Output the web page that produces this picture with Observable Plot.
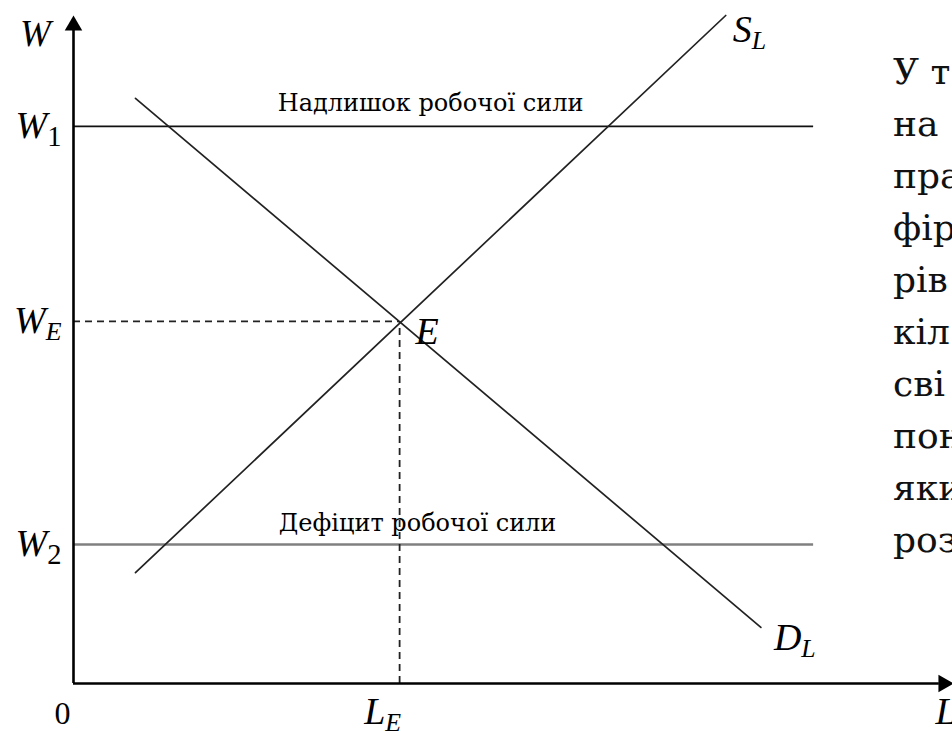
<!DOCTYPE html>
<html><head><meta charset="utf-8">
<script src="https://cdn.jsdelivr.net/npm/d3@7"></script>
<script src="https://cdn.jsdelivr.net/npm/@observablehq/plot@0.6"></script>
<style>
html,body{margin:0;padding:0;background:#fff;overflow:hidden;width:952px;height:735px}
#wrap{position:relative;width:952px;height:735px;overflow:hidden}
#para{position:absolute;left:893px;top:46px;font-family:"DejaVu Serif",serif;font-size:36px;line-height:52px;white-space:nowrap;color:#111}
</style></head>
<body><div id="wrap"><div id="chart"></div><div id="para"></div></div>
<script>
// Key levels (conceptual units)
const L_E = 3.71;   // equilibrium quantity of labour
const W_E = 5.42;   // equilibrium wage
const W_1 = 8.34;   // wage above equilibrium
const W_2 = 2.08;   // wage below equilibrium
const levelEnd = 8.42; // right end of the W1 / W2 lines

// Demand and supply curves (L, W)
const demandL = [0.705, 7.82];
const demandW = [8.76, 0.84];
const supplyL = [0.705, 7.42];
const supplyW = [1.66, 10.0];

// Labels
const yTickLabels = ["W_1", "W_E", "W_2"];
const yTickValues = [W_1, W_E, W_2];
const surplusText = "Надлишок робочої сили";
const deficitText = "Дефіцит робочої сили";
const paragraphLines = ["У т", "на", "пра", "фір", "рів", "кіл", "сві", "пон", "яки", "роз"];

const demand = demandL.map((l, i) => ({L: l, W: demandW[i]}));
const supply = supplyL.map((l, i) => ({L: l, W: supplyW[i]}));
const yTicks = yTickLabels.map((t, i) => ({t, W: yTickValues[i]}));

const serif = "'Liberation Serif', 'Times New Roman', serif";
const cyr = "'DejaVu Serif', serif";
const lab = {fontFamily: serif, fontStyle: "italic", fontSize: 38, fill: "black"};

const chart = Plot.plot({
  width: 952, height: 735,
  marginLeft: 73, marginRight: 0, marginTop: 15, marginBottom: 52,
  x: {domain: [0, 10], axis: null},
  y: {domain: [0, 10], axis: null},
  style: {fontFamily: serif, background: "white", overflow: "visible"},
  marks: [
    Plot.ruleY([W_1], {x1: 0, x2: levelEnd, stroke: "#111", strokeWidth: 1.6}),
    Plot.ruleY([W_2], {x1: 0, x2: levelEnd, stroke: "#808080", strokeWidth: 2.4}),
    Plot.ruleY([W_E], {x1: 0, x2: L_E, stroke: "#222", strokeWidth: 1.8, strokeDasharray: "7,5"}),
    Plot.ruleX([L_E], {y1: 0, y2: W_E, stroke: "#222", strokeWidth: 1.8, strokeDasharray: "7,5"}),
    Plot.line(demand, {x: "L", y: "W", stroke: "#222", strokeWidth: 1.7}),
    Plot.line(supply, {x: "L", y: "W", stroke: "#222", strokeWidth: 1.7}),
    // axes with arrowheads
    Plot.ruleX([0], {y1: 0, y2: 9.8, stroke: "black", strokeWidth: 2.6}),
    Plot.ruleY([0], {x1: 0, x2: 9.85, stroke: "black", strokeWidth: 2.6}),
    Plot.dot([0], {x: 0, y: 10, symbol: "triangle", r: 6.5, fill: "black", stroke: "none", dy: 10}),
    Plot.dot([0], {x: 10, y: 0, symbol: "triangle", r: 6.5, fill: "black", stroke: "none", rotate: 90, dx: -9}),
    // axis titles and tick labels
    Plot.text(["W"], {...lab, x: 0, y: 10, dx: -38, dy: 19, fontSize: 37}),
    Plot.text(yTicks, {...lab, x: 0, y: "W", text: "t", textAnchor: "end", dx: -12, dy: -1}),
    Plot.text(["0"], {fontFamily: serif, fontSize: 32, x: 0, y: 0, dx: -11, dy: 30}),
    Plot.text(["L_E"], {...lab, x: L_E, y: 0, dx: -17, dy: 28}),
    Plot.text(["L"], {...lab, x: 10, y: 0, textAnchor: "start", dx: -17, dy: 28}),
    Plot.text(["S_L"], {...lab, x: supplyL[1], y: supplyW[1], textAnchor: "start", dx: 7, dy: 14}),
    Plot.text(["D_L"], {...lab, x: demandL[1], y: demandW[1], textAnchor: "start", dx: 13, dy: 10}),
    Plot.text(["E"], {...lab, x: L_E, y: W_E, textAnchor: "start", dx: 16, dy: 10}),
    Plot.text([surplusText], {fontFamily: cyr, fontSize: 24, x: L_E, y: W_1, dx: 31, dy: -23}),
    Plot.text([deficitText], {fontFamily: cyr, fontSize: 24, x: L_E, y: W_2, dx: 18, dy: -21})
  ]
});

// subscripts: "X_s" -> X with a lowered, smaller s
d3.select(chart).selectAll("text").each(function () {
  const m = /^(.+)_(.+)$/.exec(this.textContent);
  if (!m) return;
  const sel = d3.select(this);
  sel.text(null);
  sel.append("tspan").text(m[1]);
  const sub = sel.append("tspan").attr("dy", "0.28em").attr("font-size", "0.68em").text(m[2]);
  if (/\d/.test(m[2])) sub.attr("font-style", "normal").attr("font-size", "0.75em");
});

document.getElementById("chart").appendChild(chart);
const para = document.getElementById("para");
paragraphLines.forEach(s => { const d = document.createElement("div"); d.textContent = s; para.appendChild(d); });
</script>
</body></html>
